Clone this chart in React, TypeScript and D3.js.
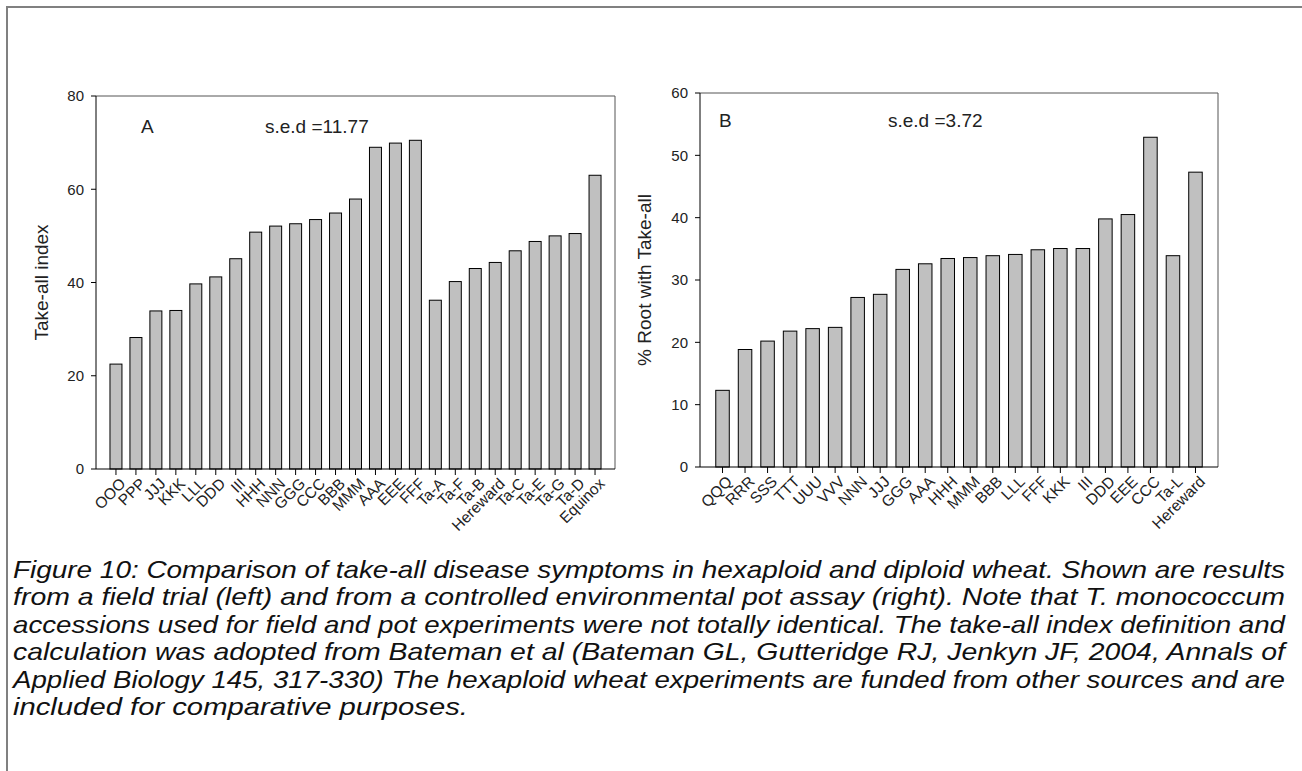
import React from "react";
import * as d3 from "d3";

const categoriesA = ["OOO","PPP","JJJ","KKK","LLL","DDD","III","HHH","NNN","GGG","CCC","BBB","MMM","AAA","EEE","FFF","Ta-A","Ta-F","Ta-B","Hereward","Ta-C","Ta-E","Ta-G","Ta-D","Equinox"];
const valuesA = [22.5,28.2,33.9,34.0,39.7,41.2,45.1,50.8,52.1,52.6,53.5,54.9,57.9,69.0,69.9,70.5,36.2,40.2,43.0,44.3,46.8,48.8,50.0,50.5,63.0];
const ticksA = [0,20,40,60,80];

const categoriesB = ["QQQ","RRR","SSS","TTT","UUU","VVV","NNN","JJJ","GGG","AAA","HHH","MMM","BBB","LLL","FFF","KKK","III","DDD","EEE","CCC","Ta-L","Hereward"];
const valuesB = [12.3,18.85,20.2,21.8,22.2,22.4,27.2,27.7,31.7,32.6,33.45,33.6,33.9,34.1,34.85,35.05,35.05,39.8,40.5,52.9,33.9,47.3];
const ticksB = [0,10,20,30,40,50,60];

const captionLines = [
  "Figure 10: Comparison of take-all disease symptoms in hexaploid and diploid wheat. Shown are results",
  "from a field trial (left) and from a controlled environmental pot assay (right). Note that T. monococcum",
  "accessions used for field and pot experiments were not totally identical. The take-all index definition and",
  "calculation was adopted from Bateman et al (Bateman GL, Gutteridge RJ, Jenkyn JF, 2004, Annals of",
  "Applied Biology 145, 317-330) The hexaploid wheat experiments are funded from other sources and are",
  "included for comparative purposes.",
];

const FONT = "'Liberation Sans', Arial, sans-serif";

function Panel({ cats, vals, ticks, yMax, box, yTitle, tag, sed, tagPos, sedPos, titleX }) {
  const x = d3.scaleBand().domain(cats).range([box.x0, box.x1]).paddingInner(0.4).paddingOuter(0.7);
  const y = d3.scaleLinear().domain([0, yMax]).range([box.y1, box.y0]);
  const bw = x.bandwidth();
  return (
    <g>
      {cats.map((c, i) => (
        <rect key={c + i} x={x(c)} y={y(vals[i])} width={bw} height={y(0) - y(vals[i])}
          fill="#c0c0c0" stroke="#000" strokeWidth={1} />
      ))}
      <line x1={box.x0} x2={box.x1} y1={box.y0} y2={box.y0} stroke="#555" strokeWidth={1} />
      <line x1={box.x1} x2={box.x1} y1={box.y0} y2={box.y1} stroke="#555" strokeWidth={1} />
      <line x1={box.x0} x2={box.x0} y1={box.y0} y2={box.y1} stroke="#000" strokeWidth={1} />
      <line x1={box.x0} x2={box.x1} y1={box.y1} y2={box.y1} stroke="#000" strokeWidth={1} />
      {ticks.map((t) => (
        <g key={t}>
          <line x1={box.x0 - 5} x2={box.x0} y1={y(t)} y2={y(t)} stroke="#000" />
          <text x={box.x0 - 12} y={y(t)} dy="0.35em" textAnchor="end" fontSize={15} fill="#222" fontFamily={FONT}>{t}</text>
        </g>
      ))}
      {cats.map((c, i) => {
        const cx = (x(c) as number) + bw / 2;
        return (
          <g key={"t" + c + i}>
            <line x1={cx} x2={cx} y1={box.y1} y2={box.y1 + 6} stroke="#000" />
            <text transform={`translate(${cx + 4},${box.y1 + 9}) rotate(-45)`} textAnchor="end" dy="0.6em"
              fontSize={15.5} fill="#222" fontFamily={FONT}>{c}</text>
          </g>
        );
      })}
      <text transform={`translate(${titleX},${(box.y0 + box.y1) / 2}) rotate(-90)`} textAnchor="middle"
        fontSize={19} fill="#222" fontFamily={FONT}>{yTitle}</text>
      <text x={tagPos[0]} y={tagPos[1]} fontSize={19} fill="#222" fontFamily={FONT}>{tag}</text>
      <text x={sedPos[0]} y={sedPos[1]} fontSize={19} fill="#222" fontFamily={FONT}>{sed}</text>
    </g>
  );
}

export default function App() {
  const capTop = 578;
  const capGap = 27.4;
  return (
    <svg width={1302} height={771} style={{ position: "absolute", left: 0, top: 0, background: "#fff" }}>
      <rect x={0} y={0} width={1302} height={771} fill="#fff" />
      <rect x={7} y={7} width={1320} height={800} fill="none" stroke="#808080" strokeWidth={2} />
      <Panel cats={categoriesA} vals={valuesA} ticks={ticksA} yMax={80}
        box={{ x0: 96, x1: 615, y0: 96, y1: 469 }} yTitle="Take-all index" tag="A" sed="s.e.d =11.77"
        tagPos={[141, 133]} sedPos={[265, 133]} titleX={48} />
      <Panel cats={categoriesB} vals={valuesB} ticks={ticksB} yMax={60}
        box={{ x0: 700, x1: 1218, y0: 93, y1: 467 }} yTitle="% Root with Take-all" tag="B" sed="s.e.d =3.72"
        tagPos={[719, 127]} sedPos={[888, 127]} titleX={651} />
      {captionLines.map((ln, i) => (
        <text key={i} x={13} y={capTop + i * capGap} fontSize={24} fontStyle="italic" fill="#111" fontFamily={FONT}
          textLength={i < captionLines.length - 1 ? 1272 : 455}
          lengthAdjust="spacingAndGlyphs">{ln}</text>
      ))}
    </svg>
  );
}
